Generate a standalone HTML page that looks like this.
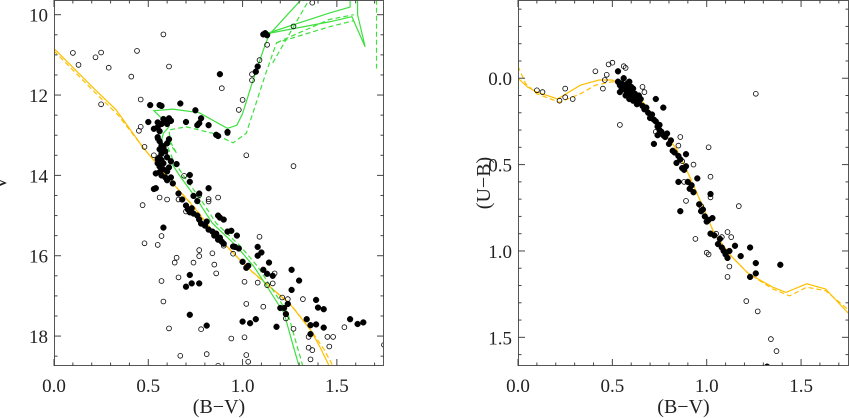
<!DOCTYPE html>
<html><head><meta charset="utf-8"><style>
body{margin:0;background:#fff;}
svg{display:block;font-family:"Liberation Serif",serif;}
</style></head><body>
<svg id="chart" width="849" height="418" viewBox="0 0 849 418" xmlns="http://www.w3.org/2000/svg"></svg>
<script>
// ---- Left panel data: V vs (B-V)
const leftFilledBV=[0.88,1.07,1.08,1.11,1.12,1.13,0.51,0.56,0.57,0.67,0.75,0.78,0.82,0.86,0.87,0.92,0.50,0.70,0.76,0.77,0.62,0.62,
0.53,0.55,0.57,0.58,0.59,0.56,0.55,0.56,0.57,0.56,0.57,0.56,0.57,0.55,0.56,0.58,0.56,0.57,0.59,0.60,0.58,0.60,0.61,0.59,0.60,0.62,0.61,0.54,0.55,0.58,0.60,0.62,0.63,0.60,0.61,0.55,
0.65,0.72,0.72,0.82,0.74,0.77,0.76,0.53,0.54,0.58,
0.66,0.68,0.70,0.71,0.72,0.73,0.74,0.76,0.77,0.78,0.80,0.81,0.82,0.84,0.85,0.86,0.87,0.88,0.89,0.90,0.87,0.88,0.90,0.92,0.94,0.97,0.95,0.96,0.98,1.00,1.02,1.03,1.08,1.10,1.08,1.14,1.11,1.13,1.16,1.20,1.22,1.23,1.24,1.26,1.26,1.30,
0.72,0.73,0.70,0.77,0.72,0.81,1.00,1.04,1.07,1.18,1.39,1.40,1.43,1.34,1.36,1.39,1.43,1.36,1.57,1.61,1.64];
const leftFilledV=[11.48,11.42,11.29,10.49,10.46,10.51,12.25,12.25,12.27,12.21,12.38,12.58,12.75,12.99,13.02,12.92,12.67,12.67,12.75,12.70,12.64,12.64,
12.84,12.80,12.72,12.60,12.65,12.90,13.05,13.15,13.25,13.35,13.45,13.55,13.62,13.70,13.78,13.85,13.92,14.00,14.05,14.12,13.30,13.20,13.10,13.40,13.55,13.65,13.80,13.95,13.60,13.70,13.90,14.05,14.20,12.72,12.58,12.68,
13.72,13.99,14.16,14.32,14.51,14.45,14.64,14.34,14.32,15.30,
14.45,14.60,14.75,14.85,14.92,14.82,14.95,15.00,15.10,15.20,15.25,15.15,15.35,15.40,15.50,15.45,15.60,15.55,15.65,15.70,15.00,15.05,15.10,15.40,15.38,15.50,15.77,15.78,15.82,16.15,16.30,16.25,15.78,15.92,16.00,16.17,16.35,16.45,16.50,17.30,17.30,17.45,17.20,16.35,16.85,16.62,
16.48,16.69,16.77,16.69,17.47,17.74,17.64,17.68,17.58,17.77,17.10,17.29,17.33,17.58,17.73,17.71,17.79,17.95,17.58,17.70,17.66];
const leftOpenBV=[0.10,0.22,0.25,0.13,0.29,0.41,0.44,0.58,0.61,0.46,0.25,0.46,0.45,0.48,0.53,0.55,0.59,0.56,0.47,0.48,0.55,0.57,0.65,0.64,0.77,0.77,0.74,0.84,0.85,0.86,0.87,0.82,0.82,0.77,0.69,0.89,1.00,0.98,0.92,1.05,1.05,1.09,1.13,1.27,1.37,1.02,1.27,0.66,0.57,0.58,0.61,0.78,0.67,0.81,0.87,0.94,1.01,1.02,1.03,1.01,1.02,1.11,1.09,1.08,1.13,1.16,1.17,1.21,1.24,1.23,1.27,1.32,1.35,1.35,1.37,1.36,1.45,1.46,1.48,1.54,1.75,0.66,0.70,0.95,0.90,0.60];
const leftOpenV=[10.95,11.06,10.94,11.25,11.32,11.54,10.90,10.49,11.29,12.11,12.23,12.79,12.89,13.29,13.50,13.09,13.47,14.55,14.74,15.69,15.73,15.51,16.05,16.17,15.86,16.01,16.17,15.94,16.22,16.44,14.55,14.59,14.65,14.49,14.01,11.83,12.12,12.37,12.95,11.63,11.48,11.13,10.75,10.29,9.70,13.50,13.77,16.54,16.63,17.14,17.81,17.83,18.49,18.45,18.74,18.06,18.03,18.47,18.64,16.65,17.20,17.27,15.53,16.67,16.73,16.69,16.44,17.04,17.08,17.56,17.82,17.08,18.02,18.29,18.35,18.58,18.02,18.26,18.02,17.78,18.22,14.60,14.90,15.95,15.75,14.60];
// isochrone curves (left)
const orangeSolidBV=[0.00,0.21,0.33,0.47,0.63,0.74,0.85,1.02,1.25,1.36,1.41,1.46];
const orangeSolidV=[10.84,11.83,12.37,13.29,14.20,14.78,15.44,16.27,17.19,17.85,18.27,18.75];
const orangeDashBV=[0.00,0.22,0.34,0.48,0.64,0.75,0.86,1.03,1.26,1.37,1.43,1.48];
const orangeDashV=[10.90,11.95,12.50,13.35,14.25,14.82,15.50,16.32,17.24,17.90,18.32,18.75];
const greenSolidBV=[1.30,1.27,1.22,1.13,1.06,0.97,0.84,0.76,0.67,0.60,0.57,0.58,0.61,0.58,0.53,0.63,0.77,0.92,0.97,1.00,1.05,1.11,1.14,1.31];
const greenSolidV=[18.75,18.27,17.43,16.77,16.27,15.77,15.19,14.61,14.03,13.53,13.12,12.95,12.79,12.62,12.39,12.35,12.44,12.83,12.75,12.46,11.71,10.88,10.50,9.63];
const greenBranchABV=[1.12,1.46,1.57,1.57];
const greenBranchAV=[10.48,9.96,9.81,9.63];
const greenBranchBBV=[1.12,1.46,1.58,1.65,1.61,1.61];
const greenBranchBV=[10.48,10.18,10.05,10.80,10.00,9.63];
const greenDashBV=[1.32,1.29,1.24,1.15,1.08,0.99,0.86,0.78,0.69,0.63,0.60,0.61,0.65,0.62,0.61,0.70,0.84,0.95,1.02,1.06,1.12,1.18,1.46,1.59];
const greenDashV=[18.75,18.27,17.43,16.77,16.27,15.77,15.19,14.61,14.03,13.60,13.25,13.10,13.45,13.25,12.87,12.79,12.95,13.19,12.95,12.37,11.50,10.70,10.30,10.15];
const greenDash2BV=[1.18,1.46,1.59];
const greenDash2V=[10.70,10.12,10.00];
const greenDash3BV=[1.16,1.35];
const greenDash3V=[11.20,9.65];
const greenDash4BV=[1.71,1.71];
const greenDash4V=[9.63,11.34];
// ---- Right panel data: (U-B) vs (B-V)
const rightFilledBV=[0.53,0.54,0.55,0.55,0.56,0.57,0.57,0.58,0.58,0.59,0.60,0.60,0.61,0.61,0.62,0.62,0.63,0.64,0.65,0.66,0.67,0.68,0.69,0.71,0.72,0.73,0.74,0.75,0.75,0.76,0.77,0.78,0.79,0.80,0.81,0.82,0.83,0.84,0.86,0.87,0.88,0.89,0.90,0.91,0.92,0.93,0.96,0.97,0.98,0.99,1.00,1.01,1.02,1.04,1.06,1.07,1.08,1.09,1.10,1.11,1.12,0.58,0.59,0.63,0.70,0.74,0.85,
0.53,0.73,0.77,0.72,0.86,0.85,0.89,0.95,1.02,1.03,1.15,1.23,1.26,1.26,1.23,1.39,1.32,1.18,0.56,0.57,0.59,0.60,0.54,0.61,0.64];
const rightFilledUB=[0.02,0.04,0.03,0.06,0.05,0.07,0.04,0.08,0.06,0.09,0.07,0.11,0.10,0.13,0.09,0.12,0.11,0.14,0.12,0.16,0.18,0.17,0.20,0.21,0.24,0.25,0.28,0.27,0.30,0.31,0.33,0.34,0.32,0.38,0.36,0.42,0.43,0.49,0.47,0.52,0.53,0.51,0.60,0.64,0.62,0.66,0.73,0.77,0.76,0.80,0.83,0.82,0.90,0.91,0.96,0.93,0.98,1.00,1.02,1.04,1.00,0.03,0.12,0.15,0.23,0.33,0.45,
-0.04,0.12,0.17,0.38,0.77,0.60,0.44,0.58,0.67,0.81,0.97,0.98,1.07,1.13,1.15,1.08,1.67,1.03,0.00,0.10,0.02,0.05,0.08,0.06,0.10];
const rightOpenBV=[0.10,0.13,0.25,0.25,0.22,0.29,0.41,0.45,0.47,0.48,0.50,0.56,0.57,0.46,0.54,0.66,0.67,0.77,0.73,0.86,0.85,0.87,0.93,0.89,1.01,1.02,1.02,0.94,1.00,1.01,1.05,1.08,1.11,1.13,1.17,1.11,1.12,1.26,1.21,1.27,1.34,1.37,0.88,0.97];
const rightOpenUB=[0.07,0.08,0.06,0.11,0.13,0.12,-0.04,0.06,-0.02,-0.08,-0.09,-0.07,-0.06,0.01,0.27,0.05,0.08,0.17,0.31,0.34,0.39,0.48,0.50,0.71,0.40,0.57,0.69,0.93,1.01,1.02,0.90,0.92,0.89,0.92,0.74,1.15,1.09,0.09,1.29,1.35,1.51,1.58,0.60,0.74];
const rOrangeSolidBV=[0.00,0.05,0.10,0.21,0.33,0.43,0.50,0.61,0.68,0.75,0.84,0.91,0.97,1.04,1.13,1.22,1.35,1.42,1.53,1.63,1.75];
const rOrangeSolidUB=[0.00,0.05,0.08,0.12,0.04,0.01,0.01,0.08,0.16,0.28,0.41,0.57,0.72,0.90,1.03,1.13,1.21,1.24,1.19,1.22,1.36];
const rOrangeDashBV=[0.00,0.04,0.10,0.22,0.33,0.41,0.50,0.61,0.68,0.75,0.84,0.91,0.97,1.04,1.13,1.22,1.35,1.44,1.53,1.63,1.75];
const rOrangeDashUB=[-0.07,0.03,0.09,0.14,0.09,0.04,0.02,0.08,0.16,0.28,0.41,0.57,0.72,0.90,1.03,1.13,1.22,1.26,1.21,1.23,1.34];
const xTicks=["0.0","0.5","1.0","1.5"];
const leftYTicks=["10","12","14","16","18"];
const rightYTicks=["0.0","0.5","1.0","1.5"];

const NS="http://www.w3.org/2000/svg";
const svg=document.getElementById('chart');
function mk(tag,attrs,parent){const e=document.createElementNS(NS,tag);for(const k in attrs)e.setAttribute(k,attrs[k]);(parent||svg).appendChild(e);return e;}
const L={x0:54,x1:384,y0:0,y1:366,xmin:0,xmax:1.75,ymin:9.634,ymax:18.745};
const R={x0:518,x1:849,y0:0,y1:366,xmin:0,xmax:1.754,ymin:-0.453,ymax:1.666};
function sx(P,v){return P.x0+(v-P.xmin)/(P.xmax-P.xmin)*(P.x1-P.x0);}
function sy(P,v){return P.y0+(v-P.ymin)/(P.ymax-P.ymin)*(P.y1-P.y0);}

function panel(P,name){
  const g=mk('g',{});
  
  
  const clip=mk('clipPath',{id:name+'-clip'});
  mk('rect',{x:P.x0,y:P.y0,width:P.x1-P.x0,height:P.y1-P.y0},clip);
  const inner=mk('g',{'clip-path':'url(#'+name+'-clip)'},g);
  return {g,inner};
}
function line(parent,P,xs,ys,color,dash,name){
  let d='';
  for(let i=0;i<xs.length;i++)d+=(i?'L':'M')+sx(P,xs[i]).toFixed(1)+','+sy(P,ys[i]).toFixed(1);
  const p=mk('path',{d:d,fill:'none',stroke:color,'stroke-width':1.2});
  if(dash)p.setAttribute('stroke-dasharray','5,3');
  
  
  parent.appendChild(p);
}
function pts(parent,P,xs,ys,filled,name){
  for(let i=0;i<xs.length;i++){
    const c=mk('circle',{cx:sx(P,xs[i]).toFixed(1),cy:sy(P,ys[i]).toFixed(1),r:filled?2.9:2.4,fill:filled?'#000':'none',stroke:'#000','stroke-width':filled?0.5:0.8},parent);
    
    
  }
}
function axes(P,g,yTicks,yMinorStep,yMinorStart,yMinorEnd,ylabel,ylabelX){
  mk('rect',{x:P.x0+0.5,y:P.y0+0.5,width:P.x1-P.x0-1,height:P.y1-P.y0-1,fill:'none',stroke:'#555','stroke-width':1},g);
  // x minor/major ticks
  for(let k=0;k<=17;k++){
    const v=k/10;const X=sx(P,v);const major=(k%5===0);const len=major?7:3.5;
    mk('line',{x1:X,y1:P.y1,x2:X,y2:P.y1-len,stroke:'#444','stroke-width':1},g);
    mk('line',{x1:X,y1:P.y0,x2:X,y2:P.y0+len,stroke:'#444','stroke-width':1},g);
  }
  xTicks.forEach(t=>{
    const tx=mk('text',{x:sx(P,parseFloat(t)),y:392,'font-size':19,'text-anchor':'middle',fill:'#222'},g);
    tx.textContent=t;
    
    
  });
  for(let v=yMinorStart;v<=yMinorEnd+1e-9;v+=yMinorStep){
    const Y=sy(P,v);if(Y<P.y0||Y>P.y1)continue;
    const major=yTicks.some(t=>Math.abs(parseFloat(t)-v)<1e-6);const len=major?7:3.5;
    mk('line',{x1:P.x0,y1:Y,x2:P.x0+len,y2:Y,stroke:'#444','stroke-width':1},g);
    mk('line',{x1:P.x1,y1:Y,x2:P.x1-len,y2:Y,stroke:'#444','stroke-width':1},g);
  }
  yTicks.forEach(t=>{
    const tx=mk('text',{x:P.x0-6,y:sy(P,parseFloat(t))+7,'font-size':19,'text-anchor':'end',fill:'#222'},g);
    tx.textContent=t;
    
    
  });
  const xl=mk('text',{x:(P.x0+P.x1)/2,y:413,'font-size':20,'text-anchor':'middle',fill:'#222'},g);
  xl.textContent='(B\u2212V)';
  
  
  const yl=mk('text',{x:0,y:0,'font-size':20,'text-anchor':'middle',fill:'#222',transform:'translate('+ylabelX+',183) rotate(-90)'},g);
  yl.textContent=ylabel;
  
  
}
const GREEN='#3ee03e',ORANGE='#ffbf00';
// Left panel
const lp=panel(L,'cmd-v-panel');
line(lp.inner,L,orangeDashBV,orangeDashV,ORANGE,true,'orange-isochrone-dashed');
line(lp.inner,L,orangeSolidBV,orangeSolidV,ORANGE,false,'orange-isochrone-solid');
line(lp.inner,L,greenDashBV,greenDashV,GREEN,true,'green-isochrone-dashed');
line(lp.inner,L,greenDash2BV,greenDash2V,GREEN,true,'green-isochrone-dashed');
line(lp.inner,L,greenDash3BV,greenDash3V,GREEN,true,'green-isochrone-dashed');
line(lp.inner,L,greenDash4BV,greenDash4V,GREEN,true,'green-isochrone-dashed');
line(lp.inner,L,greenSolidBV,greenSolidV,GREEN,false,'green-isochrone-solid');
line(lp.inner,L,greenBranchABV,greenBranchAV,GREEN,false,'green-isochrone-solid');
line(lp.inner,L,greenBranchBBV,greenBranchBV,GREEN,false,'green-isochrone-solid');
pts(lp.inner,L,leftOpenBV,leftOpenV,false,'open-star-point');
pts(lp.inner,L,leftFilledBV,leftFilledV,true,'member-star-point');
axes(L,lp.g,leftYTicks,0.5,10,18.5,'V',6);
// Right panel
const rp=panel(R,'two-color-panel');
line(rp.inner,R,rOrangeDashBV,rOrangeDashUB,ORANGE,true,'orange-sequence-dashed');
line(rp.inner,R,rOrangeSolidBV,rOrangeSolidUB,ORANGE,false,'orange-sequence-solid');
pts(rp.inner,R,rightOpenBV,rightOpenUB,false,'open-star-point');
pts(rp.inner,R,rightFilledBV,rightFilledUB,true,'member-star-point');
axes(R,rp.g,rightYTicks,0.1,-0.4,1.6,'(U\u2212B)',490);
</script>
</body></html>
